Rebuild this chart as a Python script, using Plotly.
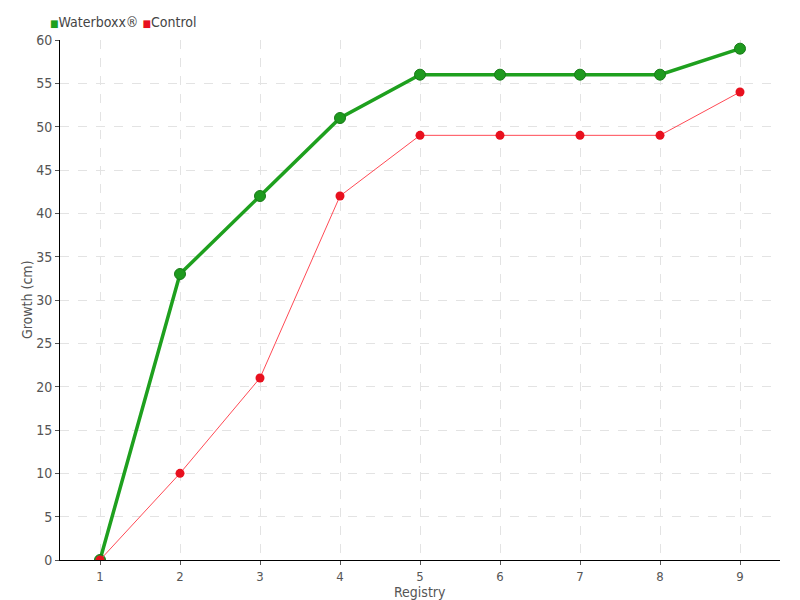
import plotly.graph_objects as go

registry = [1, 2, 3, 4, 5, 6, 7, 8, 9]
waterboxx = [0, 33, 42, 51, 56, 56, 56, 56, 59]
control = [0, 10, 21, 42, 49, 49, 49, 49, 54]
y_ticks = [0, 5, 10, 15, 20, 25, 30, 35, 40, 45, 50, 55, 60]
series_names = ["Waterboxx®", "Control"]
x_title = "Registry"
y_title = "Growth (cm)"

FONT = "DejaVu Sans Condensed"
GREEN = "#1ea01e"
RED = "#e8101e"

fig = go.Figure()
fig.add_trace(go.Scatter(
    x=registry, y=waterboxx, name=series_names[0], mode="lines+markers",
    line=dict(color=GREEN, width=3.5),
    marker=dict(color="#1e9a1e", size=11, line=dict(color="#177a17", width=1)),
))
fig.add_trace(go.Scatter(
    x=registry, y=control, name=series_names[1], mode="lines+markers",
    line=dict(color="#ff4a55", width=1),
    marker=dict(color=RED, size=9, line=dict(width=0)),
))

# page body has an 8px margin: shrink the figure accordingly
fig.update_layout(
    width=792, height=592,
    margin=dict(l=52, r=20, t=32, b=40, autoexpand=False),
    paper_bgcolor="white", plot_bgcolor="white",
    font=dict(family=FONT, size=14, color="#555555"),
    showlegend=False,
    xaxis=dict(
        range=[0.5, 9.5], tickvals=registry, ticktext=[str(v) for v in registry],
        showline=True, linecolor="black", linewidth=1,
        ticks="outside", ticklen=4, tickcolor="#555555",
        tickfont=dict(size=13),
        showgrid=True, gridcolor="#e3e3e3", griddash="dash", gridwidth=1,
        zeroline=False, automargin=False,
    ),
    yaxis=dict(
        range=[0, 60], tickvals=y_ticks,
        showline=True, linecolor="black", linewidth=1,
        ticks="outside", ticklen=4, tickcolor="#555555",
        showgrid=True, gridcolor="#e3e3e3", griddash="dash", gridwidth=1,
        zeroline=False, automargin=False,
    ),
    annotations=[
        dict(text=f"<span style='color:{GREEN};font-size:10px'>■</span>{series_names[0]} "
                  f"<span style='color:{RED};font-size:10px'>■</span>{series_names[1]}",
             xref="paper", yref="paper", x=-0.017, y=1.035, xanchor="left", yanchor="middle",
             showarrow=False, font=dict(size=14, color="#444444")),
        dict(text=x_title, xref="paper", yref="paper", x=0.5, y=-0.0615,
             xanchor="center", yanchor="middle", showarrow=False,
             font=dict(size=14, color="#555555")),
        dict(text=y_title, xref="paper", yref="paper", x=-0.0458, y=0.5, textangle=-90,
             xanchor="center", yanchor="middle", showarrow=False,
             font=dict(size=14, color="#555555")),
    ],
)

fig.write_html("out.html")
